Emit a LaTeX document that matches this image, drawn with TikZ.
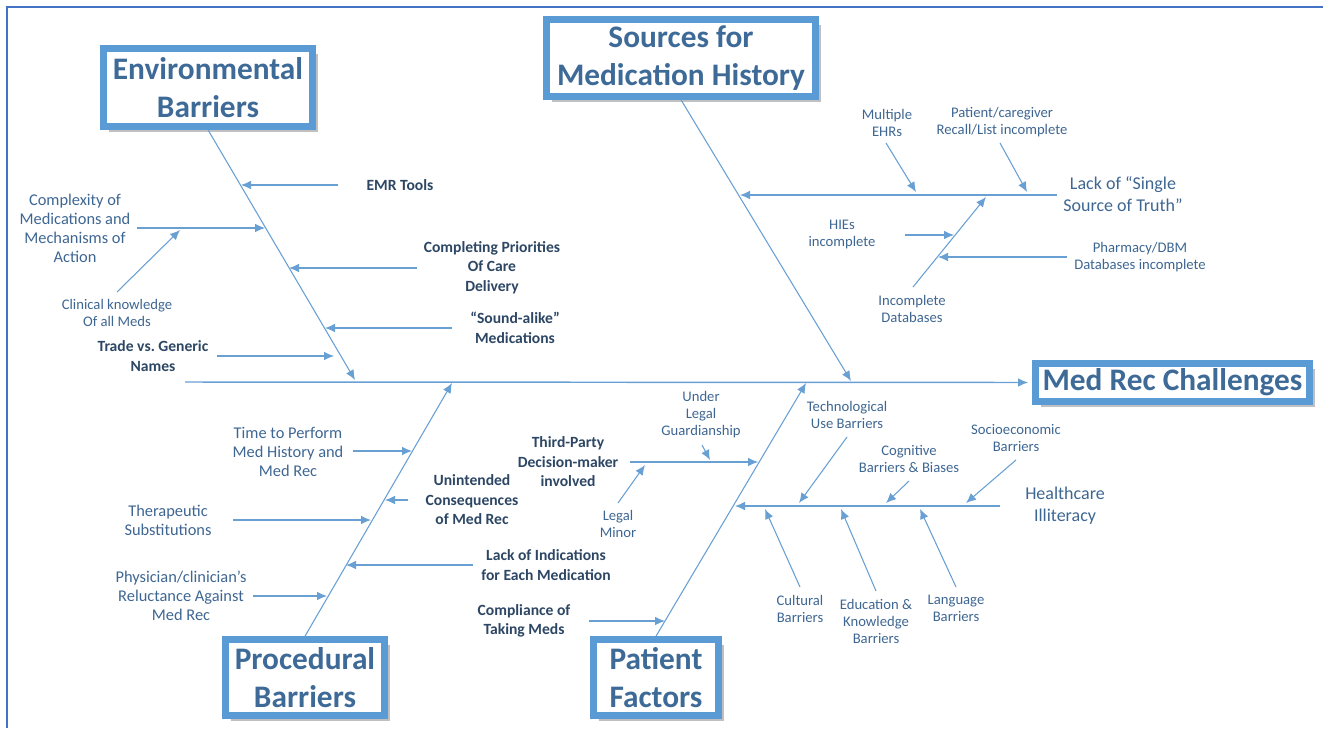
\documentclass[tikz,border=0pt]{standalone}
\usepackage{fontspec}
\setmainfont{Carlito}
\usetikzlibrary{arrows.meta,shadows}
\definecolor{boxblue}{RGB}{91,155,213}
\definecolor{linblue}{RGB}{104,160,212}
\definecolor{titblue}{RGB}{62,106,152}
\definecolor{labblue}{RGB}{62,102,146}
\definecolor{darkblue}{RGB}{44,70,100}
\definecolor{framblue}{RGB}{68,114,196}

\begin{document}
\begin{tikzpicture}[x=0.75pt,y=-0.75pt,inner sep=0,arrows=-{Latex[length=7.5pt,width=6.5pt]},
	box/.style={draw=boxblue,line width=5pt,fill=white,text=titblue,align=center,
		font=\fontsize{23.5}{28.5}\selectfont\bfseries,
		drop shadow={shadow xshift=4pt,shadow yshift=-4pt,fill=black!55,opacity=.45}},
	lbl/.style={text=labblue,align=center,font=\fontsize{11}{12.75}\selectfont},
	lblm/.style={text=labblue,align=center,font=\fontsize{12.3}{14.25}\selectfont},
	lbll/.style={text=labblue,align=center,font=\fontsize{13.5}{16.5}\selectfont},
	blbl/.style={text=darkblue,align=center,font=\fontsize{11.7}{14.6}\selectfont\bfseries},
	spine/.style={draw=linblue,line width=1.1pt},
	bone/.style={draw=linblue,line width=0.8pt},
	twig/.style={draw=linblue,line width=0.8pt}]
	\useasboundingbox (0,0) rectangle (1323,728);
	\draw[framblue,line width=1.5pt,arrows=-] (7,728) -- (7,7) -- (1323,7);

	% head and category boxes
	\node[box,minimum width=205.5pt,minimum height=28.5pt] (head) at (1172.5,382.5) {Med Rec Challenges};
	\node[box,minimum width=156.75pt,minimum height=58.5pt] (env) at (208,87.5) {Environmental\\Barriers};
	\node[box,minimum width=201.75pt,minimum height=57.75pt] (src) at (681,58) {Sources for\\Medication History};
	\node[box,minimum width=119.25pt,minimum height=57pt] (proc) at (305,677.5) {Procedural\\Barriers};
	\node[box,minimum width=93.75pt,minimum height=57pt] (pat) at (656,677.5) {Patient\\Factors};

	% spine and bones
	\coordinate (tail) at (185,382);
	\draw[spine,shorten >=3pt] (tail) -- (head.west);
	\coordinate (envtip) at (355,380);
	\coordinate (srctip) at (851,381);
	\coordinate (proctip) at (452,383);
	\coordinate (pattip) at (806,383);
	\draw[bone] (env.south) -- (envtip);
	\draw[bone] (src.south) -- (srctip);
	\draw[bone] (proc.north) -- (proctip);
	\draw[bone] (pat.north) -- (pattip);

	% environmental barriers
	\node[blbl] (emr) at (400,185) {EMR Tools};
	\node[lblm] (cplx) at (75,228.5) {Complexity of\\Medications and\\Mechanisms of\\Action};
	\node[lbl] (clin) at (117,312.5) {Clinical knowledge\\Of all Meds};
	\node[blbl] (prio) at (492,267.5) {Completing Priorities\\Of Care\\Delivery};
	\node[blbl] (sound) at (515,328) {“Sound-alike”\\Medications};
	\node[blbl] (trade) at (153,356) {Trade vs.\ Generic\\Names};
	\coordinate (emr-s) at (338,185); \coordinate (emr-e) at (241,185);
	\coordinate (cplx-s) at (137,228); \coordinate (cplx-e) at (265,228);
	\coordinate (clin-s) at (117,292); \coordinate (clin-e) at (180,230);
	\coordinate (prio-s) at (417,268); \coordinate (prio-e) at (289,268);
	\coordinate (sound-s) at (452,328); \coordinate (sound-e) at (325,328);
	\coordinate (trade-s) at (217,356); \coordinate (trade-e) at (334,356);
	\draw[twig] (emr-s) -- (emr-e);
	\draw[twig] (cplx-s) -- (cplx-e);
	\draw[twig] (clin-s) -- (clin-e);
	\draw[twig] (prio-s) -- (prio-e);
	\draw[twig] (sound-s) -- (sound-e);
	\draw[twig] (trade-s) -- (trade-e);

	% sources for medication history
	\node[lbll] (lack) at (1123,194) {Lack of “Single\\Source of Truth”};
	\node[lbl] (ehr) at (887,122.5) {Multiple\\EHRs};
	\node[lbl] (recall) at (1002,122.5) {Patient/caregiver\\Recall/List incomplete};
	\node[lbl] (incdb) at (912,308.5) {Incomplete\\Databases};
	\node[lbl] (hie) at (842,234) {HIEs\\incomplete};
	\node[lbl] (pharm) at (1140,257) {Pharmacy/DBM\\Databases incomplete};
	\coordinate (lack-s) at (1057,195); \coordinate (lack-e) at (740,195);
	\coordinate (ehr-s) at (886,143); \coordinate (ehr-e) at (916,192);
	\coordinate (recall-s) at (1000,143); \coordinate (recall-e) at (1027,192);
	\coordinate (incdb-s) at (913,287); \coordinate (incdb-e) at (986,197);
	\coordinate (hie-s) at (905,235); \coordinate (hie-e) at (954,235);
	\coordinate (pharm-s) at (1067,257); \coordinate (pharm-e) at (938,257);
	\draw[twig] (lack-s) -- (lack-e);
	\draw[twig] (ehr-s) -- (ehr-e);
	\draw[twig] (recall-s) -- (recall-e);
	\draw[twig] (incdb-s) -- (incdb-e);
	\draw[twig] (hie-s) -- (hie-e);
	\draw[twig] (pharm-s) -- (pharm-e);

	% procedural barriers
	\node[lblm] (time) at (288,452) {Time to Perform\\Med History and\\Med Rec};
	\node[blbl] (unint) at (472,500) {Unintended\\Consequences\\of Med Rec};
	\node[lblm] (thera) at (168,520.5) {Therapeutic\\Substitutions};
	\node[blbl] (indic) at (546,565) {Lack of Indications\\for Each Medication};
	\node[lblm] (phys) at (181,596) {Physician/clinician’s\\Reluctance Against\\Med Rec};
	\node[blbl] (compl) at (524,621) {Compliance of\\Taking Meds};
	\coordinate (time-s) at (353,451); \coordinate (time-e) at (412,451);
	\coordinate (unint-s) at (408,500); \coordinate (unint-e) at (385,500);
	\coordinate (thera-s) at (233,520); \coordinate (thera-e) at (371,520);
	\coordinate (indic-s) at (473,565); \coordinate (indic-e) at (346,565);
	\coordinate (phys-s) at (253,596); \coordinate (phys-e) at (327,596);
	\coordinate (compl-s) at (589,621); \coordinate (compl-e) at (665,621);
	\draw[twig] (time-s) -- (time-e);
	\draw[twig] (unint-s) -- (unint-e);
	\draw[twig] (thera-s) -- (thera-e);
	\draw[twig] (indic-s) -- (indic-e);
	\draw[twig] (phys-s) -- (phys-e);
	\draw[twig] (compl-s) -- (compl-e);

	% patient factors
	\node[blbl] (third) at (568,462) {Third-Party\\Decision-maker\\involved};
	\node[lbl] (guard) at (701,414.5) {Under\\Legal\\Guardianship};
	\node[lbl] (minor) at (618,523.5) {Legal\\Minor};
	\node[lbll] (illit) at (1065,506) {Healthcare\\Illiteracy};
	\node[lbl] (tech) at (847,414.5) {Technological\\Use Barriers};
	\node[lbl] (cogn) at (909,458.5) {Cognitive\\Barriers \& Biases};
	\node[lbl] (socio) at (1016,438.5) {Socioeconomic\\Barriers};
	\node[lbl] (cult) at (800,608.5) {Cultural\\Barriers};
	\node[lbl] (edu) at (876,621) {Education \&\\Knowledge\\Barriers};
	\node[lbl] (lang) at (956,608.5) {Language\\Barriers};
	\coordinate (third-s) at (630,462); \coordinate (third-e) at (758,462);
	\coordinate (guard-s) at (702,445); \coordinate (guard-e) at (710,460);
	\coordinate (minor-s) at (618,503); \coordinate (minor-e) at (645,465);
	\coordinate (illit-s) at (1000,506); \coordinate (illit-e) at (735,506);
	\coordinate (tech-s) at (847,437); \coordinate (tech-e) at (799,503);
	\coordinate (cogn-s) at (909,481); \coordinate (cogn-e) at (886,503);
	\coordinate (socio-s) at (1016,460); \coordinate (socio-e) at (966,503);
	\coordinate (cult-s) at (800,587); \coordinate (cult-e) at (765,509);
	\coordinate (edu-s) at (876,591); \coordinate (edu-e) at (841,509);
	\coordinate (lang-s) at (956,587); \coordinate (lang-e) at (920,509);
	\draw[twig] (third-s) -- (third-e);
	\draw[twig] (guard-s) -- (guard-e);
	\draw[twig] (minor-s) -- (minor-e);
	\draw[twig] (illit-s) -- (illit-e);
	\draw[twig] (tech-s) -- (tech-e);
	\draw[twig] (cogn-s) -- (cogn-e);
	\draw[twig] (socio-s) -- (socio-e);
	\draw[twig] (cult-s) -- (cult-e);
	\draw[twig] (edu-s) -- (edu-e);
	\draw[twig] (lang-s) -- (lang-e);
\end{tikzpicture}
\end{document}
